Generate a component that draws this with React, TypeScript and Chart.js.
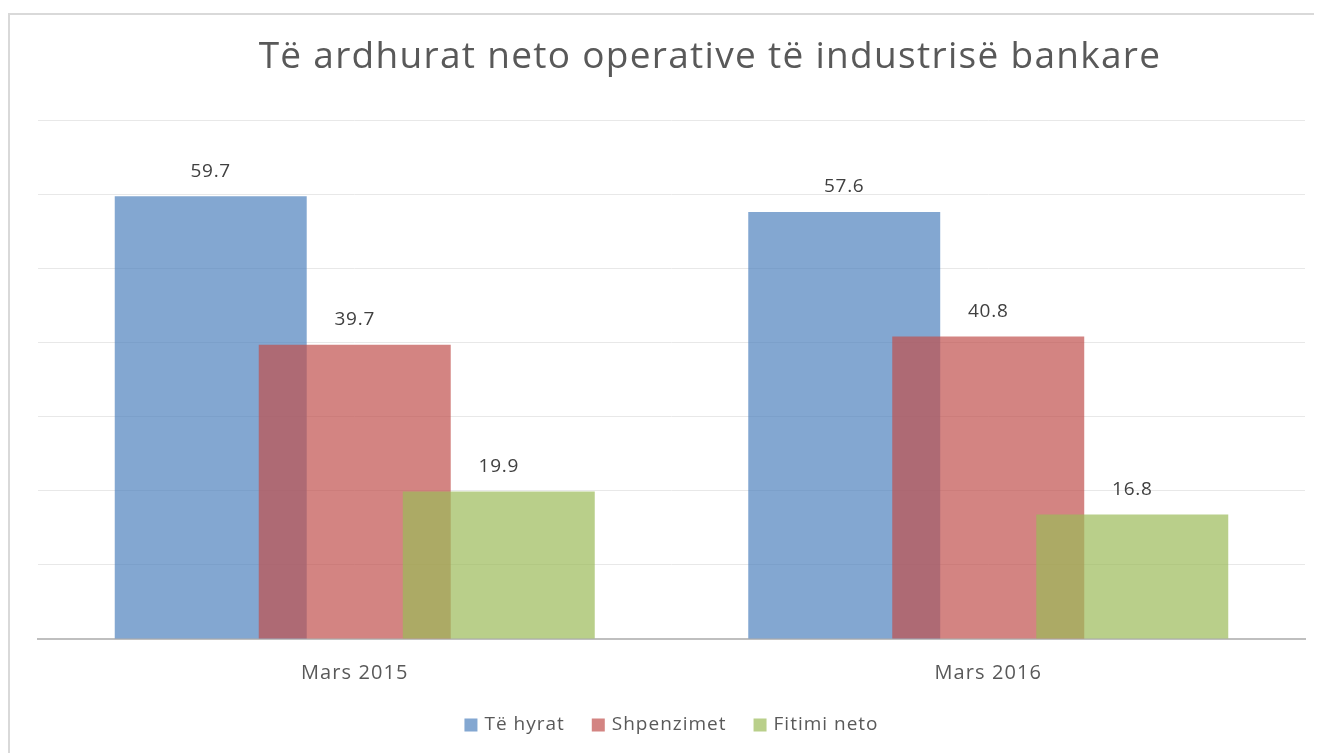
import React, { useEffect, useRef } from "react";
import { Chart, registerables } from "chart.js";

Chart.register(...registerables);

const categories = ["Mars 2015", "Mars 2016"];
const seriesNames = ["Të hyrat", "Shpenzimet", "Fitimi neto"];
const teHyrat = [59.7, 57.6];
const shpenzimet = [39.7, 40.8];
const fitimiNeto = [19.9, 16.8];
const titleText = "Të ardhurat neto operative të industrisë bankare";

const FONT = "'Open Sans', 'DejaVu Sans', sans-serif";

const framePlugin = {
  id: "frame",
  beforeDraw(chart: any) {
    const ctx = chart.ctx;
    ctx.save();
    ctx.fillStyle = "#ffffff";
    ctx.fillRect(0, 0, chart.width, chart.height);
    ctx.strokeStyle = "#d9d9d9";
    ctx.lineWidth = 2;
    ctx.beginPath();
    ctx.moveTo(1, chart.height);
    ctx.lineTo(1, 6);
    ctx.lineTo(chart.width, 6);
    ctx.stroke();
    ctx.restore();
    (ctx as any).letterSpacing = "1.1px";
  },
};

// draw series in their natural order so later series sit on top
const drawOrderPlugin = {
  id: "drawOrder",
  beforeDatasetsDraw(chart: any) {
    const metas = chart.getSortedVisibleDatasetMetas();
    const ctx = chart.ctx;
    for (let i = 0; i < metas.length; i++) {
      ctx.save();
      metas[i].controller.draw();
      ctx.restore();
    }
    return false;
  },
};

const titlePlugin = {
  id: "customTitle",
  afterDraw(chart: any) {
    const ctx = chart.ctx;
    ctx.save();
    ctx.font = `37px ${FONT}`;
    (ctx as any).letterSpacing = "1.3px";
    ctx.fillStyle = "#595959";
    ctx.textAlign = "center";
    ctx.textBaseline = "alphabetic";
    ctx.fillText(titleText, 702, 60);
    ctx.restore();
  },
};

const labelsPlugin = {
  id: "valueLabels",
  afterDraw(chart: any) {
    const ctx = chart.ctx;
    ctx.save();
    ctx.font = `19px ${FONT}`;
    (ctx as any).letterSpacing = "0.7px";
    ctx.fillStyle = "#404040";
    ctx.textAlign = "center";
    ctx.textBaseline = "middle";
    chart.data.datasets.forEach((ds: any, i: number) => {
      const meta = chart.getDatasetMeta(i);
      meta.data.forEach((bar: any, j: number) => {
        ctx.fillText(ds.data[j].toFixed(1), bar.x, bar.y - 25);
      });
    });
    ctx.restore();
  },
};

const legendPlugin = {
  id: "customLegend",
  afterDraw(chart: any) {
    const ctx = chart.ctx;
    const area = chart.chartArea;
    ctx.save();
    ctx.font = `19px ${FONT}`;
    (ctx as any).letterSpacing = "1px";
    ctx.textBaseline = "middle";
    ctx.textAlign = "left";
    const box = 13;
    const gap = 7;
    const itemGap = 27;
    const ds = chart.data.datasets;
    const widths = ds.map((d: any) => box + gap + ctx.measureText(d.label).width);
    const total = widths.reduce((a: number, b: number) => a + b, 0) + itemGap * (ds.length - 1);
    let x = (area.left + area.right) / 2 - total / 2;
    const y = 717;
    ds.forEach((d: any, i: number) => {
      ctx.fillStyle = d.backgroundColor;
      ctx.fillRect(x, y - box / 2, box, box);
      ctx.fillStyle = "#595959";
      ctx.fillText(d.label, x + box + gap, y);
      x += widths[i] + itemGap;
    });
    ctx.restore();
  },
};

export default function App() {
  const ref = useRef<HTMLCanvasElement>(null);
  useEffect(() => {
    if (!ref.current) return;
    const colors = [
      "rgba(79,129,189,0.7)",
      "rgba(192,80,77,0.7)",
      "rgba(155,187,89,0.7)",
    ];
    const values = [teHyrat, shpenzimet, fitimiNeto];
    const chart = new Chart(ref.current, {
      type: "bar",
      data: {
        labels: categories,
        datasets: seriesNames.map((name, i) => ({
          label: name,
          data: values[i],
          backgroundColor: colors[i],
          borderWidth: 0,
          categoryPercentage: 0.682,
          barPercentage: 1.333,
        })),
      },
      options: {
        animation: false,
        responsive: false,
        maintainAspectRatio: false,
        layout: { padding: { top: 112, left: 30, right: 17, bottom: 54 } },
        plugins: {
          title: { display: false },
          tooltip: { enabled: false },
          legend: { display: false },
        },
        scales: {
          x: {
            grid: { display: false },
            border: { display: true, color: "#bfbfbf", width: 2 },
            ticks: {
              color: "#595959",
              font: { family: FONT, size: 20 },
              padding: 14,
            },
          },
          y: {
            min: 0,
            max: 70,
            ticks: { display: false, stepSize: 10 },
            border: { display: false },
            grid: { color: "#e8e8e8", lineWidth: 1, drawTicks: false },
          },
        },
      },
      plugins: [framePlugin, drawOrderPlugin, titlePlugin, labelsPlugin, legendPlugin],
    });
    return () => chart.destroy();
  }, []);
  return (
    <div style={{ width: 1314, height: 745 }}>
      <canvas ref={ref} width={1314} height={745} style={{ display: "block" }} />
    </div>
  );
}
